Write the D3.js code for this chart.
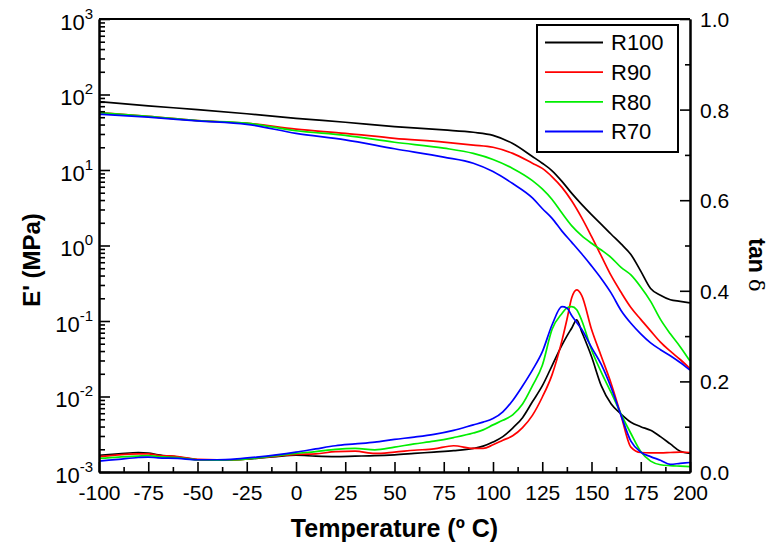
<!DOCTYPE html>
<html><head><meta charset="utf-8">
<script src="https://cdn.jsdelivr.net/npm/d3@7"></script>
<style>
body{margin:0;background:#fff}
svg{display:block}
text{font-family:Arial,"Liberation Sans",Helvetica,sans-serif;fill:#000}
</style>
</head><body>
<script>
// ---------- data ----------
const seriesNames = ["R100", "R90", "R80", "R70"];
const seriesColors = ["#000000", "#ff0000", "#00ee00", "#0000ff"];

// Storage modulus E' (MPa)
const modTemps = [-100,-75,-50,-25,0,25,50,75,90,100,110,120,125,130,135,140,145,150,155,160,165,170,175,180,185,190,195,200];
const modR100 = [80.4,70.8,63.1,55.6,48.4,42.9,37.6,33.9,31.6,28.8,22.4,15.1,12.3,9.77,7.08,4.90,3.51,2.57,1.91,1.41,1.05,0.759,0.457,0.269,0.219,0.191,0.182,0.174];
const modR90  = [57.5,51.3,45.0,41.7,34.7,30.6,26.3,23.4,21.4,20.0,16.6,12.3,10.5,8.13,5.89,3.89,2.34,1.32,0.724,0.398,0.240,0.151,0.105,0.0741,0.0525,0.0398,0.0309,0.0234];
const modR80  = [57.5,51.3,45.2,41.7,33.1,28.8,23.3,19.5,16.6,13.8,10.5,7.24,5.62,4.07,2.69,1.82,1.35,1.07,0.871,0.692,0.513,0.407,0.282,0.182,0.105,0.0676,0.0457,0.0295];
const modR70  = [54.7,50.1,44.7,40.3,30.6,25.1,19.1,14.8,12.3,9.55,6.61,4.27,3.09,2.29,1.55,1.10,0.776,0.537,0.363,0.234,0.138,0.0933,0.0676,0.0513,0.0417,0.0347,0.0282,0.0224];

// tan delta
const tanTemps = [-100,-90,-80,-75,-70,-60,-50,-40,-30,-20,-10,0,10,20,30,40,50,60,70,80,90,95,100,105,110,115,120,125,130,135,137.5,140,142.5,145,150,155,160,165,170,175,180,185,190,195,200];
const tanR100 = [0.037,0.040,0.043,0.042,0.038,0.033,0.027,0.026,0.027,0.030,0.034,0.037,0.035,0.034,0.035,0.036,0.038,0.041,0.044,0.047,0.052,0.057,0.066,0.078,0.097,0.120,0.155,0.190,0.235,0.280,0.300,0.318,0.336,0.310,0.255,0.190,0.150,0.128,0.110,0.100,0.092,0.078,0.062,0.046,0.041];
const tanR90  = [0.034,0.038,0.040,0.040,0.037,0.034,0.028,0.027,0.027,0.031,0.035,0.039,0.040,0.045,0.046,0.041,0.044,0.048,0.051,0.058,0.052,0.052,0.060,0.070,0.080,0.098,0.125,0.165,0.215,0.290,0.336,0.385,0.402,0.390,0.315,0.255,0.195,0.125,0.055,0.043,0.042,0.042,0.043,0.044,0.043];
const tanR80  = [0.030,0.033,0.035,0.036,0.034,0.032,0.027,0.026,0.027,0.031,0.036,0.041,0.045,0.050,0.052,0.049,0.055,0.062,0.068,0.076,0.086,0.093,0.104,0.114,0.126,0.150,0.190,0.235,0.315,0.350,0.362,0.365,0.358,0.335,0.270,0.220,0.175,0.128,0.085,0.045,0.024,0.016,0.014,0.013,0.012];
const tanR70  = [0.024,0.028,0.032,0.033,0.031,0.030,0.027,0.027,0.029,0.033,0.038,0.044,0.051,0.058,0.062,0.066,0.072,0.077,0.083,0.092,0.104,0.110,0.118,0.133,0.158,0.190,0.225,0.265,0.325,0.365,0.362,0.345,0.330,0.315,0.275,0.237,0.186,0.125,0.068,0.044,0.034,0.026,0.017,0.019,0.021];

// ticks
const xTicks = [-100,-75,-50,-25,0,25,50,75,100,125,150,175,200];
const xMinorTicks = [-87.5,-62.5,-37.5,-12.5,12.5,37.5,62.5,87.5,112.5,137.5,162.5,187.5];
const logExponents = [-3,-2,-1,0,1,2,3];
const tanTicks = [0,0.2,0.4,0.6,0.8,1.0];
const tanMinorTicks = [0.1,0.3,0.5,0.7,0.9];

// ---------- layout ----------
const W = 773, H = 554;
const L = 99, R = 690, T = 19, B = 472;

const svg = d3.select("body").append("svg").attr("width", W).attr("height", H);

const x = d3.scaleLinear().domain([-100, 200]).range([L, R]);
const yMod = d3.scaleLog().domain([1e-3, 1e3]).range([B, T]);
const yTan = d3.scaleLinear().domain([0, 1]).range([B, T]);

const modSeries = [modR100, modR90, modR80, modR70];
const tanSeries = [tanR100, tanR90, tanR80, tanR70];

svg.append("clipPath").attr("id", "clip").append("rect")
  .attr("x", L).attr("y", T).attr("width", R - L).attr("height", B - T);

const plot = svg.append("g").attr("clip-path", "url(#clip)");

const modLine = d3.line().curve(d3.curveMonotoneX)
  .x(d => x(d[0])).y(d => yMod(d[1]));
const tanLine = d3.line().curve(d3.curveMonotoneX)
  .x(d => x(d[0])).y(d => yTan(d[1]));

modSeries.forEach((vals, i) => {
  plot.append("path")
    .datum(modTemps.map((t, k) => [t, vals[k]]))
    .attr("d", modLine).attr("fill", "none")
    .attr("stroke", seriesColors[i]).attr("stroke-width", 1.7);
});
tanSeries.forEach((vals, i) => {
  plot.append("path")
    .datum(tanTemps.map((t, k) => [t, vals[k]]))
    .attr("d", tanLine).attr("fill", "none")
    .attr("stroke", seriesColors[i]).attr("stroke-width", 1.7);
});

// ---------- axes ----------
function styleAxis(g) {
  g.selectAll("path.domain").attr("stroke", "#000").attr("stroke-width", 2);
  g.selectAll(".tick line").attr("stroke", "#000").attr("stroke-width", 1.6);
}

// bottom
const gxMinor = svg.append("g").attr("transform", `translate(0,${B})`)
  .call(d3.axisBottom(x).tickValues(xMinorTicks).tickSize(-5).tickSizeOuter(0).tickFormat(""));
styleAxis(gxMinor);
const gx = svg.append("g").attr("transform", `translate(0,${B})`)
  .call(d3.axisBottom(x).tickValues(xTicks).tickSize(-10).tickSizeOuter(0).tickFormat(d => d));
styleAxis(gx);
gx.selectAll(".tick text").attr("font-size", 21).attr("font-family", "Arial, 'Liberation Sans', sans-serif").attr("fill", "#000")
  .attr("dy", null).attr("y", 28);

// left (log)
const logMinor = [];
for (let e = -3; e < 3; e++) for (let m = 2; m <= 9; m++) logMinor.push(m * Math.pow(10, e));
const gyMinor = svg.append("g").attr("transform", `translate(${L},0)`)
  .call(d3.axisLeft(yMod).tickValues(logMinor).tickSize(-6).tickSizeOuter(0).tickFormat(""));
styleAxis(gyMinor);
const gy = svg.append("g").attr("transform", `translate(${L},0)`)
  .call(d3.axisLeft(yMod).tickValues(logExponents.map(e => Math.pow(10, e))).tickSize(-11).tickSizeOuter(0).tickFormat(""));
styleAxis(gy);
gy.selectAll(".tick").each(function(d) {
  const e = Math.round(Math.log10(d));
  const t = d3.select(this).append("text")
    .attr("x", -6).attr("y", 10).attr("text-anchor", "end")
    .attr("font-size", 22);
  t.append("tspan").text("10");
  t.append("tspan").attr("dy", -11).attr("font-size", 15).text(e);
});

// right (tan delta)
const gtMinor = svg.append("g").attr("transform", `translate(${R},0)`)
  .call(d3.axisRight(yTan).tickValues(tanMinorTicks).tickSize(-5).tickSizeOuter(0).tickFormat(""));
styleAxis(gtMinor);
const gt = svg.append("g").attr("transform", `translate(${R},0)`)
  .call(d3.axisRight(yTan).tickValues(tanTicks).tickSize(-10).tickSizeOuter(0).tickFormat(d3.format(".1f")));
styleAxis(gt);
gt.selectAll(".tick text").attr("font-size", 21).attr("font-family", "Arial, 'Liberation Sans', sans-serif").attr("fill", "#000")
  .attr("x", 10).attr("dy", "0.36em");

// top border
svg.append("line").attr("x1", L).attr("x2", R).attr("y1", T).attr("y2", T)
  .attr("stroke", "#000").attr("stroke-width", 2);

// ---------- titles ----------
svg.append("text").attr("x", (L + R) / 2).attr("y", 537).attr("text-anchor", "middle")
  .attr("font-size", 25).attr("font-weight", "bold").text("Temperature (º C)");

svg.append("text").attr("transform", "translate(40,260) rotate(-90)")
  .attr("text-anchor", "middle").attr("font-size", 24).attr("font-weight", "bold")
  .text("E' (MPa)");

const tanTitle = svg.append("text").attr("transform", "translate(749,265) rotate(90)")
  .attr("text-anchor", "middle").attr("font-size", 23);
tanTitle.append("tspan").attr("font-weight", "bold").text("tan ");
tanTitle.append("tspan").attr("font-family", "'DejaVu Serif', serif").attr("font-size", 21).text("δ");

// ---------- legend ----------
const lg = svg.append("g");
lg.append("rect").attr("x", 537).attr("y", 25).attr("width", 141).attr("height", 127)
  .attr("fill", "#fff").attr("stroke", "#000").attr("stroke-width", 2);
const legendY = d3.scalePoint().domain(seriesNames).range([42.5, 131.5]);
seriesNames.forEach((n, i) => {
  const yy = legendY(n);
  lg.append("line").attr("x1", 545).attr("x2", 603).attr("y1", yy).attr("y2", yy)
    .attr("stroke", seriesColors[i]).attr("stroke-width", 1.8);
  lg.append("text").attr("x", 611).attr("y", yy).attr("dy", "0.36em")
    .attr("font-size", 22).text(n);
});
</script>
</body></html>
